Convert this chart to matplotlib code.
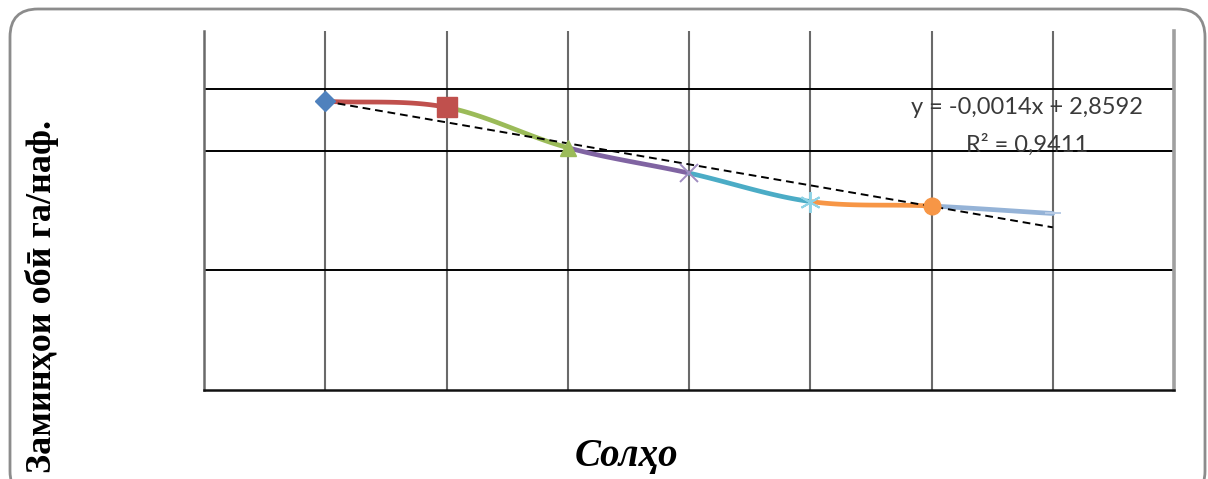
import numpy as np
import matplotlib
matplotlib.use("Agg")
import matplotlib.pyplot as plt
from matplotlib.patches import FancyBboxPatch
from matplotlib.transforms import IdentityTransform

# ---- data ----
x_pos = [1, 2, 3, 4, 5, 6, 7]
values = [2.8578, 2.8574, 2.8547, 2.8530, 2.8511, 2.8508, 2.8503]
seg_colors = ["#C0504D", "#9BBB59", "#8064A2", "#4BACC6", "#F79646", "#95B3D7"]
markers = ["D", "s", "^", "x", "*", "o", "_"]
marker_colors = ["#4F81BD", "#C0504D", "#9BBB59", "#9F8CC0", "#8FD3E6", "#F79646", "#B9CCE6"]
marker_sizes = [10, 14, 12, 13, 15, 12, 11]
y_label = "Заминҳои обӣ га/наф."
x_label = "Солҳо"
eq_text = "y = -0,0014x + 2,8592"
r2_text = "R² = 0,9411"
y_ticks = [2.8465, 2.8545, 2.8586]
x_ticks = [0, 1, 2, 3, 4, 5, 6, 7, 8]

W, H = 1208, 479
fig = plt.figure(figsize=(W / 100, H / 100), dpi=100)
ax = fig.add_axes([204 / W, 1 - 390 / H, (1174 - 204) / W, (390 - 31) / H])
ax.set_xlim(0, 8)
ax.set_ylim(2.8385, 2.8625)

# grid
for xv in x_ticks[1:-1]:
    ax.axvline(xv, color="#6a6a6a", lw=1.5, zorder=1)
for yv in y_ticks:
    ax.axhline(yv, color="#000000", lw=1.4, zorder=1)
ax.set_xticks([])
ax.set_yticks([])
ax.spines["top"].set_visible(False)
ax.spines["bottom"].set_color("#111111")
ax.spines["bottom"].set_linewidth(1.8)
ax.spines["left"].set_color("#6a6a6a")
ax.spines["left"].set_linewidth(1.8)
ax.spines["right"].set_color("#a0a0a0")
ax.spines["right"].set_linewidth(2.6)

# smooth segments (Hermite / Catmull-Rom, like Excel smoothed lines)
xa = np.array(x_pos, float)
ya = np.array(values, float)
n = len(xa)
mx = np.zeros(n)
my = np.zeros(n)
for i in range(n):
    if i == 0:
        mx[i], my[i] = xa[1] - xa[0], ya[1] - ya[0]
    elif i == n - 1:
        mx[i], my[i] = xa[-1] - xa[-2], ya[-1] - ya[-2]
    else:
        mx[i], my[i] = (xa[i + 1] - xa[i - 1]) / 2, (ya[i + 1] - ya[i - 1]) / 2
t = np.linspace(0, 1, 40)
h00 = 2 * t**3 - 3 * t**2 + 1
h10 = t**3 - 2 * t**2 + t
h01 = -2 * t**3 + 3 * t**2
h11 = t**3 - t**2
for i in range(n - 1):
    cx = h00 * xa[i] + h10 * mx[i] + h01 * xa[i + 1] + h11 * mx[i + 1]
    cy = h00 * ya[i] + h10 * my[i] + h01 * ya[i + 1] + h11 * my[i + 1]
    ax.plot(cx, cy, color=seg_colors[i], lw=3.4, solid_capstyle="round", zorder=3)

# trendline
k, b = np.polyfit(xa, ya, 1)
tx = np.array([xa[0], xa[-1]])
ax.plot(tx, k * tx + b, color="black", lw=1.4, ls=(0, (4, 2.5)), zorder=4)

# markers
for i in range(n):
    mk = markers[i]
    kw = dict(marker=mk, ms=marker_sizes[i], color=marker_colors[i], ls="none", zorder=5)
    if mk in ("x", "_"):
        kw["mew"] = 1.4
    elif mk == "*":
        kw["marker"] = (6, 2, 0)
        kw["mew"] = 1.4
    else:
        kw["mec"] = marker_colors[i]
    ax.plot([xa[i]], [ya[i]], **kw)

# equation text
fig.text(1027 / W, 1 - 108 / H, eq_text, ha="center", va="center", fontsize=17,
         family="Lato", color="#3a3a3a")
fig.text(1027 / W, 1 - 145 / H, r2_text, ha="center", va="center", fontsize=17,
         family="Lato", color="#3a3a3a")

# axis labels
fig.text(42 / W, 1 - 296 / H, y_label, rotation=90, ha="center", va="center",
         fontsize=26, family="Liberation Serif", fontweight="bold", color="black")
fig.text(626 / W, 1 - 457 / H, x_label, ha="center", va="center", fontsize=28,
         family="Liberation Serif", fontweight="bold", fontstyle="italic", color="black")

# rounded frame
frame = FancyBboxPatch((10, -20), 1195, 490, boxstyle="round,pad=0,rounding_size=28",
                       transform=IdentityTransform(), fill=False, ec="#8c8c8c", lw=2.0)
fig.patches.append(frame)

fig.savefig("out.png", dpi=100)
